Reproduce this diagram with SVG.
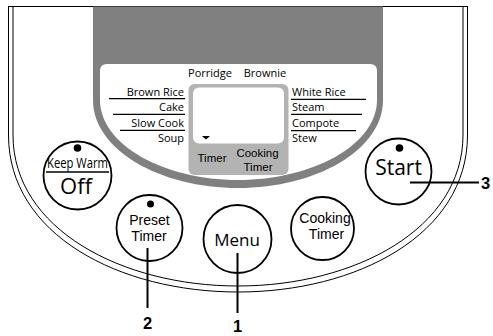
<svg xmlns="http://www.w3.org/2000/svg" width="493" height="336" viewBox="0 0 493 336">
  <style>
    .outline { fill: none; stroke: #000; stroke-width: 1; }
    .btn { fill: #fff; stroke: #000; stroke-width: 1.8; }
    .lbl { font-family: "Open Sans", "Liberation Sans", sans-serif; font-size: 11px; fill: #000; }
    .r { text-anchor: end; }
    .c { text-anchor: middle; }
    .btxt { font-family: "Open Sans", "Liberation Sans", sans-serif; fill: #000; text-anchor: middle; }
    .btxt2 { font-family: "Liberation Sans", Arial, sans-serif; font-size: 14px; fill: #000; text-anchor: middle; }
    .lcd { font-family: "Liberation Sans", Arial, sans-serif; font-size: 11.5px; fill: #000; text-anchor: middle; }
    .rule { stroke: #000; stroke-width: 1.2; }
    .lead { stroke: #000; stroke-width: 2; fill: none; }
    .num { font-family: "Liberation Sans", Arial, sans-serif; font-weight: bold; font-size: 16.5px; fill: #000; }
  </style>

  <!-- appliance body outline (double line) -->
  <g id="body">
    <line class="outline" x1="8" y1="6.5" x2="468" y2="6.5"/>
    <path class="outline" d="M8.5,6.5 V135 C8.5,235 120,292 238,292 C356,292 467.5,235 467.5,135 V6.5"/>
    <path class="outline" d="M13,6.5 V135 C13,229 122,286 238,286 C354,286 463,229 463,135 V6.5"/>
  </g>

  <!-- upper control panel -->
  <g id="panel">
    <path fill="#808080" d="M93,6.5 V100 C93,150 160,188 238,188 C316,188 383,150 383,100 V6.5 Z"/>
    <path fill="#fff" d="M107,64 H370 Q377,64 377,71 V100 C377,145 312,180 238,180 C164,180 100,145 100,100 V71 Q100,64 107,64 Z"/>
  </g>

  <!-- LCD display -->
  <g id="display">
    <rect x="188.5" y="84" width="100" height="91" rx="6" fill="#b3b3b3"/>
    <rect x="193" y="87.5" width="91" height="56" rx="6" fill="#fff"/>
    <polygon points="202,136 210,136 206,139.5" fill="#000"/>
    <text class="lcd" x="212" y="162">Timer</text>
    <text class="lcd" x="257.5" y="156.5">Cooking</text>
    <text class="lcd" x="258" y="170.5">Timer</text>
  </g>

  <!-- menu labels -->
  <g id="menu-labels">
    <text class="lbl c" x="210" y="77">Porridge</text>
    <text class="lbl c" x="265" y="77">Brownie</text>

    <text class="lbl r" x="184" y="96">Brown Rice</text>
    <line class="rule" x1="109" y1="98.7" x2="185" y2="98.7"/>
    <text class="lbl r" x="184" y="111">Cake</text>
    <line class="rule" x1="113" y1="114.3" x2="185" y2="114.3"/>
    <text class="lbl r" x="184" y="127">Slow Cook</text>
    <line class="rule" x1="120" y1="130.3" x2="185" y2="130.3"/>
    <text class="lbl r" x="184" y="142">Soup</text>

    <text class="lbl" x="292" y="96">White Rice</text>
    <line class="rule" x1="291" y1="99.3" x2="366" y2="99.3"/>
    <text class="lbl" x="292" y="111">Steam</text>
    <line class="rule" x1="291" y1="114.3" x2="362" y2="114.3"/>
    <text class="lbl" x="292" y="127">Compote</text>
    <line class="rule" x1="291" y1="130.6" x2="356" y2="130.6"/>
    <text class="lbl" x="292" y="142">Stew</text>
  </g>

  <!-- buttons -->
  <g id="btn-keepwarm">
    <circle class="btn" cx="77.5" cy="175.5" r="34"/>
    <circle cx="77.5" cy="148" r="3.8" fill="#000"/>
    <text class="btxt" x="77.5" y="168" font-size="14" textLength="61" lengthAdjust="spacingAndGlyphs">Keep Warm</text>
    <line x1="46" y1="172" x2="109" y2="172" stroke="#000" stroke-width="1.5"/>
    <text class="btxt" x="76" y="193.5" font-size="22">Off</text>
  </g>

  <g id="btn-preset">
    <circle class="btn" cx="149.5" cy="228" r="33"/>
    <circle cx="150.5" cy="204" r="3.5" fill="#000"/>
    <text class="btxt2" x="149.5" y="224.5">Preset</text>
    <text class="btxt2" x="149" y="240.5">Timer</text>
  </g>

  <g id="btn-menu">
    <circle class="btn" cx="237.5" cy="239" r="34"/>
    <text class="btxt" x="237" y="246" font-size="17">Menu</text>
  </g>

  <g id="btn-cooking">
    <circle class="btn" cx="322.5" cy="228.5" r="31.5"/>
    <text class="btxt2" x="325" y="223">Cooking</text>
    <text class="btxt2" x="326.5" y="239">Timer</text>
  </g>

  <g id="btn-start">
    <circle class="btn" cx="398.5" cy="171.5" r="33"/>
    <circle cx="399.5" cy="148" r="3.8" fill="#000"/>
    <text class="btxt" x="398.5" y="175" font-size="21">Start</text>
  </g>

  <!-- callout leaders -->
  <g id="connectors">
    <line class="lead" x1="237.5" y1="253" x2="237.5" y2="313"/>
    <line class="lead" x1="147.5" y1="248" x2="147.5" y2="308"/>
    <line class="lead" x1="410" y1="182.5" x2="479" y2="182.5"/>
  </g>

  <g id="callouts">
    <text class="num" x="237.5" y="332" text-anchor="middle">1</text>
    <text class="num" x="147.5" y="328.5" text-anchor="middle">2</text>
    <text class="num" x="481" y="188.5">3</text>
  </g>
</svg>
